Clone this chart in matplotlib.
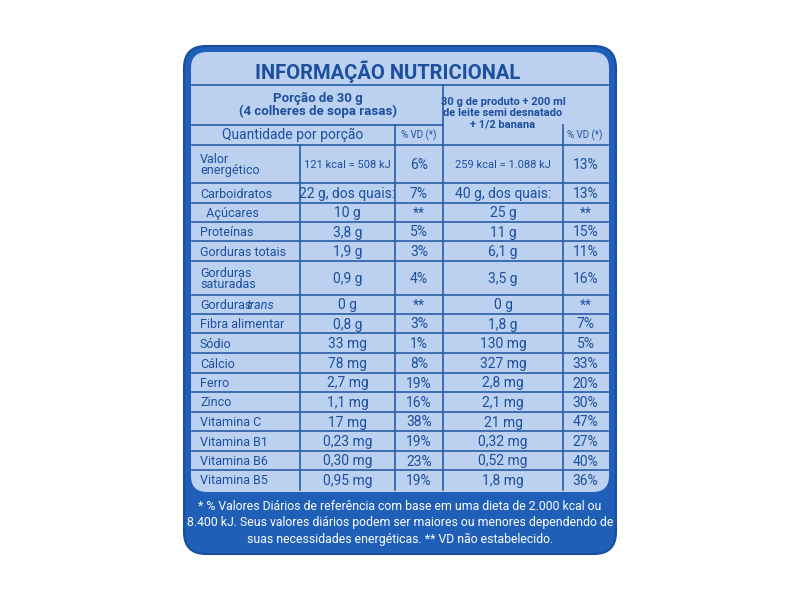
import matplotlib
matplotlib.use("Agg")
import matplotlib.pyplot as plt
from matplotlib.patches import FancyBboxPatch

nutrients = ["Valor\nenergético", "Carboidratos", "  Açúcares", "Proteínas", "Gorduras totais",
             "Gorduras\nsaturadas", "Gorduras trans", "Fibra alimentar", "Sódio", "Cálcio", "Ferro",
             "Zinco", "Vitamina C", "Vitamina B1", "Vitamina B6", "Vitamina B5"]
portion = ["121 kcal = 508 kJ", "22 g, dos quais:", "10 g", "3,8 g", "1,9 g", "0,9 g", "0 g", "0,8 g",
           "33 mg", "78 mg", "2,7 mg", "1,1 mg", "17 mg", "0,23 mg", "0,30 mg", "0,95 mg"]
vd1 = ["6%", "7%", "**", "5%", "3%", "4%", "**", "3%", "1%", "8%", "19%", "16%", "38%", "19%", "23%", "19%"]
prepared = ["259 kcal = 1.088 kJ", "40 g, dos quais:", "25 g", "11 g", "6,1 g", "3,5 g", "0 g", "1,8 g",
            "130 mg", "327 mg", "2,8 mg", "2,1 mg", "21 mg", "0,32 mg", "0,52 mg", "1,8 mg"]
vd2 = ["13%", "13%", "**", "15%", "11%", "16%", "**", "7%", "5%", "33%", "20%", "30%", "47%", "27%", "40%", "36%"]

title = "INFORMAÇÃO NUTRICIONAL"
footer = ("* % Valores Diários de referência com base em uma dieta de 2.000 kcal ou\n"
          "8.400 kJ. Seus valores diários podem ser maiores ou menores dependendo de\n"
          "suas necessidades energéticas. ** VD não estabelecido.")

FONT = ["Roboto", "DejaVu Sans"]
TXT = "#1c4f9e"
LINE = "#2a5ca8"
PANEL = "#bcd0ef"
OUTER = "#1f5fb8"

fig = plt.figure(figsize=(8, 6), dpi=100)
ax = fig.add_axes([0, 0, 1, 1])
ax.set_xlim(0, 800); ax.set_ylim(600, 0); ax.axis("off")

ax.add_patch(FancyBboxPatch((184, 46), 432, 508, boxstyle="round,pad=0,rounding_size=22",
                            fc=OUTER, ec="#1a4f9e", lw=1.5))
ax.add_patch(FancyBboxPatch((191, 52), 418, 440, boxstyle="round,pad=0,rounding_size=16",
                            fc=PANEL, ec="none"))

xs = [192, 300, 395, 443, 563, 608]
row_y = [145, 183, 203, 222, 241, 261, 295, 314, 333, 353, 373, 392, 412, 431, 451, 470, 490]
ylw = dict(color=LINE, lw=1.2)

ax.plot([192, 608], [85, 85], **ylw)
ax.plot([192, 443], [125, 125], **ylw)
ax.plot([395, 395], [125, 145], **ylw)
ax.plot([443, 443], [85, 145], **ylw)
ax.plot([563, 563], [125, 145], **ylw)
for y in row_y[:-1]:
    ax.plot([192, 608], [y, y], **ylw)
for x in xs[1:-1]:
    ax.plot([x, x], [145, 490], **ylw)

ax.text(388, 72, title, ha="center", va="center", fontsize=14.5, fontweight="bold",
        color=TXT, family=FONT)
ax.text(318, 105, "Porção de 30 g\n(4 colheres de sopa rasas)", ha="center", va="center",
        fontsize=9.5, fontweight="bold", color=TXT, family=FONT, linespacing=1.0)
ax.text(293, 135, "Quantidade por porção", ha="center", va="center", fontsize=10, color=TXT, family=FONT)
ax.text(419, 135, "% VD (*)", ha="center", va="center", fontsize=7, color=TXT, family=FONT)
ax.text(503, 113, "30 g de produto + 200 ml\nde leite semi desnatado\n+ 1/2 banana", ha="center",
        va="center", fontsize=8, fontweight="bold", color=TXT, family=FONT, linespacing=1.15)
ax.text(585, 135, "% VD (*)", ha="center", va="center", fontsize=7, color=TXT, family=FONT)

for i, name in enumerate(nutrients):
    yc = (row_y[i] + row_y[i + 1]) / 2 + 1
    kw = dict(va="center", color=TXT, family=FONT, fontsize=9)
    if name == "Gorduras trans":
        ax.text(200, yc, "Gorduras", ha="left", **kw)
        ax.text(247, yc, "trans", ha="left", style="italic", **kw)
    else:
        ax.text(200, yc, name, ha="left", linespacing=0.85, **kw)
    ax.text((xs[1] + xs[2]) / 2, yc, portion[i], ha="center", **{**kw, "fontsize": 8 if i == 0 else 10})
    ax.text((xs[2] + xs[3]) / 2, yc, vd1[i], ha="center", **{**kw, "fontsize": 10})
    ax.text((xs[3] + xs[4]) / 2, yc, prepared[i], ha="center", **{**kw, "fontsize": 8 if i == 0 else 10})
    ax.text((xs[4] + xs[5]) / 2, yc, vd2[i], ha="center", **{**kw, "fontsize": 10})

ax.text(400, 523, footer, ha="center", va="center", fontsize=8.8, color="white", family=FONT,
        linespacing=1.3)

fig.savefig("out.png", dpi=100)
